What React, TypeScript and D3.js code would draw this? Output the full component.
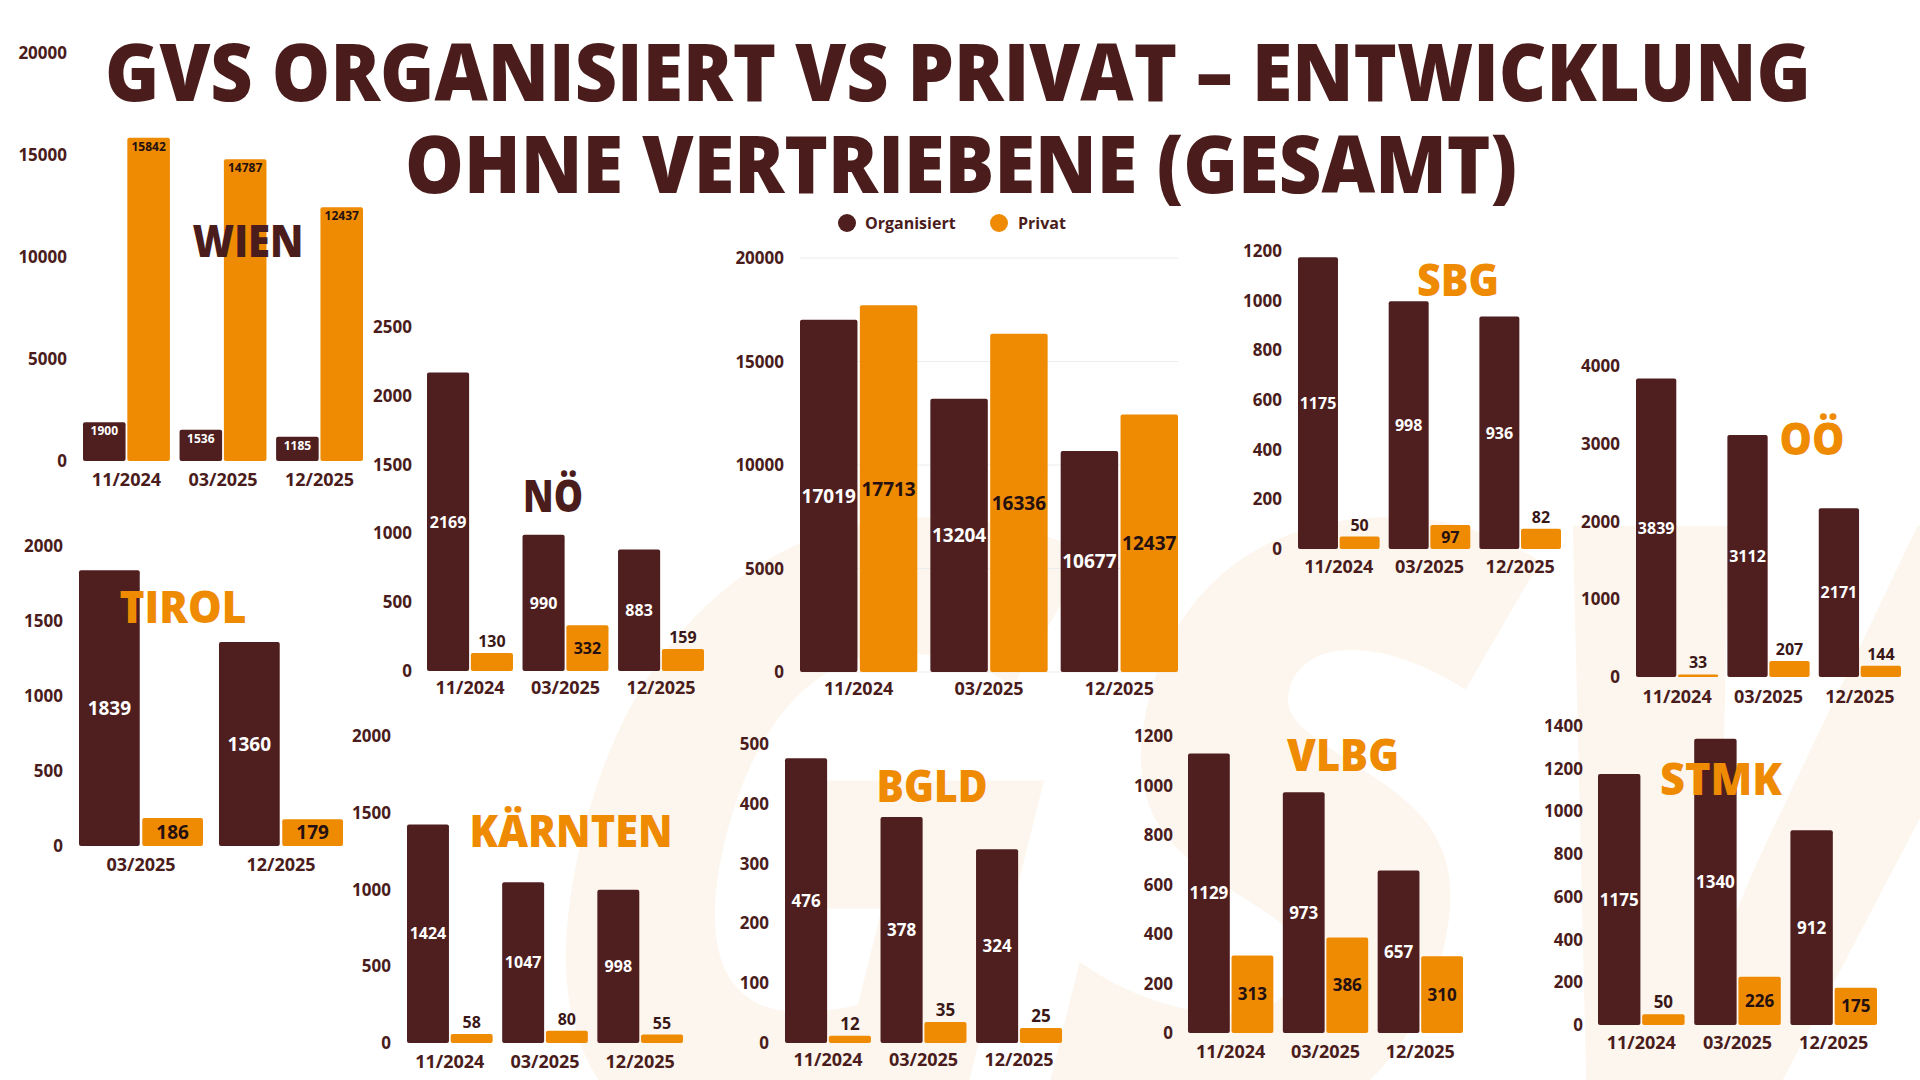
import * as d3 from "d3";
import { useEffect } from "react";

// categories
const periods = ["11/2024", "03/2025", "12/2025"];
const tirolPeriods = ["03/2025", "12/2025"];
const seriesNames = ["Organisiert", "Privat"];

// values per region (organisiert / privat)
const gesamtOrg = [17019, 13204, 10677];
const gesamtPriv = [17713, 16336, 12437];
const wienOrg = [1900, 1536, 1185];
const wienPriv = [15842, 14787, 12437];
const noeOrg = [2169, 990, 883];
const noePriv = [130, 332, 159];
const sbgOrg = [1175, 998, 936];
const sbgPriv = [50, 97, 82];
const ooeOrg = [3839, 3112, 2171];
const ooePriv = [33, 207, 144];
const tirolOrg = [1839, 1360];
const tirolPriv = [186, 179];
const ktnOrg = [1424, 1047, 998];
const ktnPriv = [58, 80, 55];
const bgldOrg = [476, 378, 324];
const bgldPriv = [12, 35, 25];
const vlbgOrg = [1129, 973, 657];
const vlbgPriv = [313, 386, 310];
const stmkOrg = [1175, 1340, 912];
const stmkPriv = [50, 226, 175];

// tick labels
const ticks20000 = [0, 5000, 10000, 15000, 20000];
const ticks2500 = [0, 500, 1000, 1500, 2000, 2500];
const ticks2000 = [0, 500, 1000, 1500, 2000];
const ticks1200 = [0, 200, 400, 600, 800, 1000, 1200];
const ticks1400 = [0, 200, 400, 600, 800, 1000, 1200, 1400];
const ticks4000 = [0, 1000, 2000, 3000, 4000];
const ticks500 = [0, 100, 200, 300, 400, 500];

const DARK = "#4f1f1f";
const ORANGE = "#ee8b03";
const INK = "#4a1c1c";
const BLACKISH = "#241010";
const FONT = "'Open Sans', 'Noto Sans', sans-serif";

const Panel = (props) => {
  const { cats, org, priv, ticks, x0, x1, y0, y1, tickRight, xLabelY, valSize, mode, grid, title } = props;
  const x = d3.scaleBand().domain(cats).range([x0, x1]).paddingInner(props.pad ?? 0.1).paddingOuter(0);
  const inner = d3.scaleBand().domain(seriesNames).range([0, x.bandwidth()]).paddingInner(0.04);
  const y = d3.scaleLinear().domain([0, d3.max(ticks)]).range([y0, y1]);

  const rects = [];
  const labels = [];
  cats.forEach((c, i) => {
    [org[i], priv[i]].forEach((v, k) => {
      const bx = x(c) + inner(seriesNames[k]);
      const top = y(v);
      const h = y0 - top;
      let ly, fill;
      if (mode === "top") {
        ly = top + valSize + 1;
        fill = k === 0 ? "#fff" : BLACKISH;
      } else if (k === 0 || h >= 23) {
        ly = (top + y0) / 2 + valSize * 0.36;
        fill = k === 0 ? "#fff" : BLACKISH;
      } else {
        ly = top - 6;
        fill = "#3a1818";
      }
      rects.push(
        <rect key={"r" + c + k} x={bx} y={top} width={inner.bandwidth()} height={h} rx={2} fill={k === 0 ? DARK : ORANGE} />
      );
      labels.push(
        <text key={"l" + c + k} x={bx + inner.bandwidth() / 2} y={ly} textAnchor="middle" fontSize={valSize} fontWeight={700} fill={fill}>
          {v}
        </text>
      );
    });
  });

  return (
    <g fontFamily={FONT}>
      {grid &&
        ticks.map((t) => (
          <line key={"g" + t} x1={x0} x2={x1} y1={y(t)} y2={y(t)} stroke="#ececec" strokeWidth={1} />
        ))}
      {ticks.map((t) => (
        <text key={"t" + t} x={tickRight} y={y(t) + 6} textAnchor="end" fontSize={17} fontWeight={700} fill={INK}>
          {t}
        </text>
      ))}
      {rects}
      {labels}
      {cats.map((c) => (
        <text key={"x" + c} x={x(c) + x.bandwidth() / 2} y={xLabelY + 6} textAnchor="middle" fontSize={18} fontWeight={700} fill={INK}>
          {c}
        </text>
      ))}
      {title && (
        <text x={title.x} y={title.y} textAnchor="middle" fontSize={45} fontWeight={800} fill={title.color}
          textLength={title.w} lengthAdjust="spacingAndGlyphs">
          {title.text}
        </text>
      )}
    </g>
  );
};

const App = () => {
  useEffect(() => {
    document.body.style.margin = "0";
  }, []);

  return (
    <svg width={1920} height={1080} style={{ position: "absolute", left: 0, top: 0, background: "#fff" }}>
      <rect width={1920} height={1080} fill="#fff" />
      {/* watermark */}
      <g transform="translate(470,1140) skewX(-14)">
        <text x={0} y={0} fontFamily={FONT} fontWeight={800} fontSize={860} fill="#fdf6ee"
          textLength={1450} lengthAdjust="spacingAndGlyphs">
          GSV
        </text>
      </g>

      {/* title */}
      <g fontFamily={FONT} fontWeight={800} fill={INK}>
        <text x={958} y={101} textAnchor="middle" fontSize={79} textLength={1706} lengthAdjust="spacingAndGlyphs">
          GVS ORGANISIERT VS PRIVAT – ENTWICKLUNG
        </text>
        <text x={961} y={193} textAnchor="middle" fontSize={79} textLength={1112} lengthAdjust="spacingAndGlyphs">
          OHNE VERTRIEBENE (GESAMT)
        </text>
      </g>

      {/* legend */}
      <g fontFamily={FONT} fontWeight={700} fontSize={16} fill={INK}>
        {seriesNames.map((s, i) => (
          <g key={s}>
            <circle cx={[847, 999][i]} cy={223} r={9} fill={i === 0 ? DARK : ORANGE} />
            <text x={[865, 1018][i]} y={229}>{s}</text>
          </g>
        ))}
      </g>

      <Panel cats={periods} org={wienOrg} priv={wienPriv} ticks={ticks20000}
        x0={83} x1={363} y0={461} y1={53} tickRight={67} xLabelY={480} valSize={12} mode="top"
        title={{ text: "WIEN", x: 248, y: 257, w: 111, color: INK }} />
      <Panel cats={periods} org={noeOrg} priv={noePriv} ticks={ticks2500}
        x0={427} x1={704} y0={671} y1={327} tickRight={412} xLabelY={688} valSize={16}
        title={{ text: "NÖ", x: 553, y: 512, w: 60, color: INK }} />
      <Panel cats={periods} org={gesamtOrg} priv={gesamtPriv} ticks={ticks20000} grid
        x0={800} x1={1178} y0={672} y1={258} tickRight={784} xLabelY={689} valSize={19} />
      <Panel cats={periods} org={sbgOrg} priv={sbgPriv} ticks={ticks1200}
        x0={1298} x1={1561} y0={549} y1={251} tickRight={1282} xLabelY={567} valSize={16}
        title={{ text: "SBG", x: 1458, y: 296, w: 82, color: ORANGE }} />
      <Panel cats={periods} org={ooeOrg} priv={ooePriv} ticks={ticks4000}
        x0={1636} x1={1901} y0={677} y1={366} tickRight={1620} xLabelY={697} valSize={16}
        title={{ text: "OÖ", x: 1812, y: 455, w: 65, color: ORANGE }} />
      <Panel cats={tirolPeriods} org={tirolOrg} priv={tirolPriv} ticks={ticks2000} pad={0.114}
        x0={79} x1={343} y0={846} y1={546} tickRight={63} xLabelY={865} valSize={19}
        title={{ text: "TIROL", x: 183, y: 623, w: 127, color: ORANGE }} />
      <Panel cats={periods} org={ktnOrg} priv={ktnPriv} ticks={ticks2000}
        x0={407} x1={683} y0={1043} y1={736} tickRight={391} xLabelY={1062} valSize={16}
        title={{ text: "KÄRNTEN", x: 571, y: 847, w: 203, color: ORANGE }} />
      <Panel cats={periods} org={bgldOrg} priv={bgldPriv} ticks={ticks500}
        x0={785} x1={1062} y0={1043} y1={744} tickRight={769} xLabelY={1060} valSize={17}
        title={{ text: "BGLD", x: 932, y: 802, w: 111, color: ORANGE }} />
      <Panel cats={periods} org={vlbgOrg} priv={vlbgPriv} ticks={ticks1200}
        x0={1188} x1={1463} y0={1033} y1={736} tickRight={1173} xLabelY={1052} valSize={17}
        title={{ text: "VLBG", x: 1343, y: 771, w: 112, color: ORANGE }} />
      <Panel cats={periods} org={stmkOrg} priv={stmkPriv} ticks={ticks1400}
        x0={1598} x1={1877} y0={1025} y1={726} tickRight={1583} xLabelY={1043} valSize={17}
        title={{ text: "STMK", x: 1721, y: 795, w: 122, color: ORANGE }} />
    </svg>
  );
};

export default App;
